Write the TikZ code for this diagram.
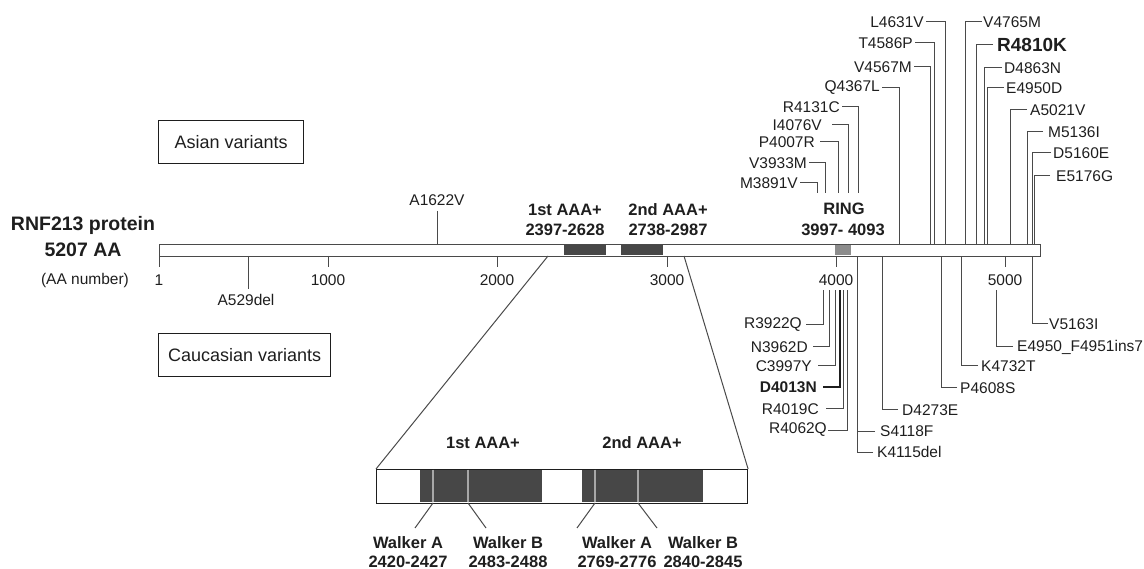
\documentclass[tikz,border=0pt]{standalone}
\usepackage{fontspec}
\setmainfont{Liberation Sans}
\definecolor{txt}{HTML}{1E1E1E}
\definecolor{lnc}{HTML}{4A4A4A}
\definecolor{dom}{HTML}{474747}
\definecolor{ring}{HTML}{8C8C8C}
\definecolor{walk}{HTML}{A8A8A8}
\begin{document}
\begin{tikzpicture}[x=1pt,y=-1pt,
  lab/.style={font=\fontsize{15.5}{18}\selectfont, text=txt, inner sep=0pt},
  labbold/.style={font=\fontsize{15.5}{18}\selectfont\bfseries, text=txt, inner sep=0pt},
  dlab/.style={font=\fontsize{16.5}{19}\selectfont\bfseries, text=txt, inner sep=0pt},
  ln/.style={draw=lnc, line width=1pt},
  boxlab/.style={draw=txt, line width=1.1pt, minimum height=43pt, font=\fontsize{18}{21}\selectfont, text=txt, inner sep=0pt}
]
\useasboundingbox (0,0) rectangle (1144,569);

% ---------- main bar ----------
\node[draw=lnc, line width=1.1pt, fill=white, minimum width=881pt, minimum height=12pt, inner sep=0pt, anchor=north west] (bar) at (159,244) {};
\fill[dom] (564,244.6) rectangle (606,255.4);
\fill[dom] (621,244.6) rectangle (663,255.4);
\fill[ring] (835,244.6) rectangle (851,255.4);

% ---------- left labels ----------
\node[font=\fontsize{19.5}{22}\selectfont\bfseries, text=txt, inner sep=0pt] (prot) at (83,225) {RNF213 protein};
\node[font=\fontsize{19.5}{22}\selectfont\bfseries, text=txt, inner sep=0pt] (aa) at (83,250) {5207 AA};
\node[lab] (aanum) at (85,280) {(AA number)};

\node[boxlab, minimum width=145pt, anchor=north west] (asian) at (158,120) {Asian variants};
\node[boxlab, minimum width=172pt, anchor=north west] (cauc) at (158,333) {Caucasian variants};

% ---------- ticks ----------
\foreach \x/\t [count=\i] in {159/1,328/1000,497/2000,667/3000,836/4000,1005/5000}{
  \coordinate (tk\i) at (\x,256);
  \coordinate (tke\i) at (\x,267);
  \draw[ln] (tk\i) -- (tke\i);
  \node[lab] (tkl\i) at (\x,280) {\t};
}

% ---------- domain labels ----------
\node[dlab] (d1a) at (565,210) {1st AAA+};
\node[dlab] (d1b) at (565,230) {2397-2628};
\node[dlab] (d2a) at (668,210) {2nd AAA+};
\node[dlab] (d2b) at (668,230) {2738-2987};
\node[dlab] (r1) at (844,209) {RING};
\node[dlab] (r2) at (843,230) {3997- 4093};

% ---------- single variants on left ----------
\node[lab] (a1622) at (437,200) {A1622V};
\coordinate (a1622b) at (437,244);
\draw[ln] (437,211) -- (a1622b);
\node[lab] (a529) at (246,300) {A529del};
\coordinate (a529b) at (248,256);
\draw[ln] (a529b) -- (248,289);

% ---------- top variants, label left of line ----------
\foreach \t/\ex/\y/\g/\vx/\vy [count=\i] in {
  L4631V/924/22/2/945/244,
  T4586P/913/43/2/934/244,
  V4567M/912/67/2/930/244,
  Q4367L/880/88/2/899/244,
  R4131C/840/107/2/858/193,
  I4076V/822/125/10/848/193,
  P4007R/815/142/5/838/193,
  V3933M/807/163/2/825/193,
  M3891V/798/183/2/817/193}{
  \node[lab, anchor=east] (tl\i) at (\ex,\y) {\t};
  \coordinate (tlb\i) at (\vx,\vy);
  \draw[ln, shorten <=\g pt] (tl\i.east) -| (tlb\i);
}

% ---------- top variants, label right of line ----------
\foreach \t/\wx/\y/\g/\vx [count=\i] in {
  V4765M/983/22/1/965,
  D4863N/1004/68/2/984,
  E4950D/1006/88/2/987,
  A5021V/1030/110/3/1010,
  M5136I/1048/132/5/1027,
  D5160E/1053/153/2/1032,
  E5176G/1056/176/6/1034}{
  \node[lab, anchor=west] (tr\i) at (\wx,\y) {\t};
  \coordinate (trb\i) at (\vx,244);
  \draw[ln, shorten <=\g pt] (tr\i.west) -| (trb\i);
}
\node[font=\fontsize{19}{22}\selectfont\bfseries, text=txt, inner sep=0pt, anchor=west] (r4810) at (997,45) {R4810K};
\coordinate (r4810b) at (976,244);
\draw[ln, shorten <=4pt] (r4810.west) -| (r4810b);

% ---------- bottom variants, label left of line ----------
\foreach \t/\ex/\y/\g/\vx [count=\i] in {
  R3922Q/802/325/4/823,
  N3962D/808/347/5/829,
  C3997Y/812/366/6/835,
  R4019C/819/409/7/843,
  R4062Q/827/430/1/847}{
  \node[lab, anchor=east] (bl\i) at (\ex,\y) {\t};
  \coordinate (blb\i) at (\vx,290);
  \draw[ln, shorten <=\g pt] (bl\i.east) -| (blb\i);
}
\node[labbold, anchor=east] (d4013) at (817,387) {D4013N};
\coordinate (d4013b) at (840,290);
\draw[draw=txt, line width=1.3pt, shorten <=6pt] (d4013.east) -| (d4013b);

% ---------- bottom variants, label right of line ----------
\foreach \t/\wx/\y/\g/\vx/\vy [count=\i] in {
  S4118F/880/431/5/857/256,
  K4115del/877/452/4/857/256,
  D4273E/902/410/4/882/256,
  P4608S/960/388/3/941/256,
  K4732T/981/366/3/961/256,
  E4950\_F4951ins7/1017/347/4/996/290,
  V5163I/1049/324/1/1032/256}{
  \node[lab, anchor=west] (br\i) at (\wx,\y) {\t};
  \coordinate (brb\i) at (\vx,\vy);
  \draw[ln, shorten <=\g pt] (br\i.west) -| (brb\i);
}

% ---------- zoomed AAA+ region ----------
\node[draw=txt, line width=1.1pt, fill=white, minimum width=371pt, minimum height=34pt, inner sep=0pt, anchor=north west] (zbox) at (376,469) {};
\fill[dom] (420,469.6) rectangle (542,502.4);
\fill[dom] (582,469.6) rectangle (703,502.4);
\foreach \x in {433,468,595,638}{
  \draw[walk, line width=1.5pt] (\x,469.6) -- (\x,502.4);
}
\coordinate (zl0) at (548,256);
\coordinate (zr0) at (684,256);
\draw[ln] (zl0) -- (zbox.north west);
\draw[ln] (zr0) -- (zbox.north east);

\node[dlab] (z1) at (483,443) {1st AAA+};
\node[dlab] (z2) at (642,443) {2nd AAA+};

\foreach \x/\lx/\cx/\na/\nb [count=\i] in {
  433/415/408/Walker A/2420-2427,
  468/486/508/Walker B/2483-2488,
  595/577/617/Walker A/2769-2776,
  638/657/703/Walker B/2840-2845}{
  \node[dlab] (wa\i) at (\cx,543) {\na};
  \node[dlab] (wb\i) at (\cx,562) {\nb};
  \coordinate (wt\i) at (\x,503);
  \coordinate (wl\i) at (\lx,528);
  \draw[ln] (wt\i) -- (wl\i);
}
\end{tikzpicture}
\end{document}
